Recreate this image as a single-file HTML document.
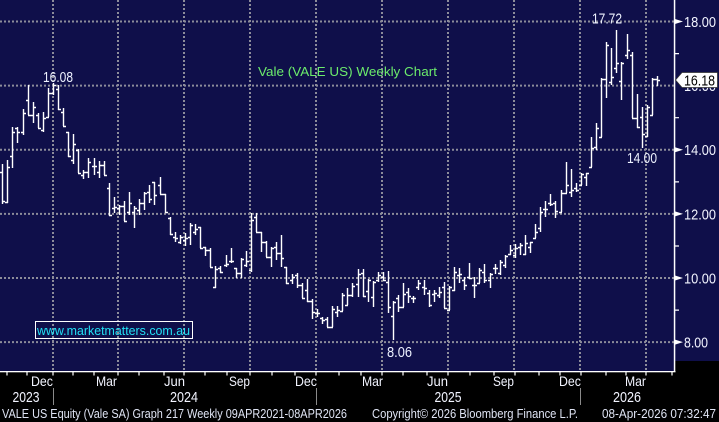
<!DOCTYPE html>
<html><head><meta charset="utf-8"><style>
html,body{margin:0;padding:0;background:#000;width:719px;height:422px;overflow:hidden}
svg{display:block}
text{font-family:"Liberation Sans",Arial,sans-serif}
</style></head><body>
<svg width="719" height="422" viewBox="0 0 719 422" xmlns="http://www.w3.org/2000/svg">
<rect x="0" y="0" width="719" height="422" fill="#000"/>
<rect x="0" y="0" width="675" height="371" fill="#0f0f4a"/>
<rect x="675" y="0" width="44" height="361" fill="#0f0f4a"/>
<g stroke="#8c8c9a" stroke-width="2" stroke-dasharray="2 2" fill="none">
<path d="M0 21.5H674M0 85.6H674M0 149.8H674M0 213.9H674M0 278H674M0 342.1H674"/>
<path d="M53 0V371M118 0V371M184 0V371M250 0V371M316 0V371M382 0V371M448 0V371M514 0V371M580 0V371M646 0V371"/>
</g>
<path fill="none" stroke="#fff" stroke-width="1.4" d="M2.5 164V204M0 172.5H3M2 201.5H5M7.5 160V203M5 202.5H8M7 167.5H10M12.5 127V168M10 156.5H13M12 132.5H15M17.5 127V143M15 128.5H18M17 132.5H20M23.5 109V135M21 132.5H24M23 113.5H26M28.5 85V115M26 100.5H29M28 115.5H31M33.5 102V123M31 115.5H34M33 107.5H36M38.5 113V128M36 115.5H39M38 128.5H41M43.5 112V132M41 130.5H44M43 118.5H46M48.5 88V117M46 117.5H49M48 93.5H51M53.5 83V95M51 93.5H54M53 85.5H56M58.5 85V110M56 89.5H59M58 109.5H61M63.5 108V126M61 112.5H64M63 126.5H66M68.5 132V157M66 132.5H69M68 156.5H71M73.5 134V164M71 160.5H74M73 144.5H76M78.5 149V173M76 150.5H79M78 173.5H81M83.5 170V179M81 175.5H84M83 172.5H86M88.5 158V178M86 172.5H89M88 162.5H91M94.5 158V175M92 166.5H95M94 166.5H97M99.5 161V178M97 172.5H100M99 165.5H102M104.5 161V175M102 165.5H105M104 175.5H107M109.5 183V216M107 188.5H110M109 215.5H112M114.5 197V213M112 208.5H115M114 207.5H117M119.5 205V215M117 208.5H120M119 206.5H122M124.5 201V221M122 206.5H125M124 221.5H127M129.5 192V215M127 212.5H130M129 203.5H132M134.5 206V228M132 212.5H135M134 208.5H137M139.5 199V215M137 210.5H140M139 203.5H142M144.5 192V210M142 203.5H145M144 193.5H147M149.5 185V203M147 192.5H150M149 199.5H152M154.5 182V205M152 182.5H155M154 195.5H157M160.5 177V194M158 185.5H161M160 194.5H163M165.5 194V213M163 194.5H166M165 212.5H168M170.5 217V235M168 218.5H171M170 234.5H173M175.5 232V242M173 237.5H176M175 238.5H178M180.5 235V244M178 242.5H181M180 237.5H183M185.5 233V246M183 240.5H186M185 238.5H188M190.5 223V245M188 237.5H191M190 225.5H193M195.5 224V235M193 232.5H196M195 229.5H198M200.5 227V248M198 227.5H201M200 248.5H203M205.5 247V256M203 247.5H206M205 250.5H208M210.5 248V267M208 250.5H211M210 267.5H213M215.5 266V288M213 287.5H216M215 269.5H218M220.5 266V273M218 268.5H221M220 272.5H223M226.5 255V267M224 265.5H227M226 264.5H229M231.5 248V263M229 261.5H232M231 261.5H234M236.5 268V278M234 268.5H237M236 273.5H239M241.5 258V278M239 273.5H242M241 259.5H244M246.5 251V267M244 265.5H247M246 261.5H249M251.5 213V272M249 270.5H252M251 220.5H254M256.5 213V232M254 217.5H257M256 232.5H259M261.5 232V252M259 232.5H262M261 242.5H264M266.5 241V257M264 242.5H267M266 257.5H269M271.5 247V267M269 257.5H272M271 248.5H274M276.5 242V260M274 247.5H277M276 253.5H279M281.5 235V267M279 253.5H282M281 258.5H284M286.5 267V284M284 267.5H287M286 283.5H289M292.5 274V284M290 280.5H293M292 277.5H295M297.5 273V288M295 275.5H298M297 285.5H300M302.5 283V298M300 285.5H303M302 298.5H305M307.5 279V302M305 290.5H308M307 301.5H310M312.5 299V319M310 301.5H313M312 312.5H315M317.5 309V317M315 313.5H318M317 313.5H320M322.5 317V324M320 318.5H323M322 320.5H325M327.5 317V327M325 319.5H328M327 327.5H330M332.5 306V327M330 327.5H333M332 309.5H335M337.5 306V317M335 312.5H338M337 310.5H340M342.5 293V311M340 311.5H343M342 295.5H345M347.5 288V305M345 305.5H348M347 295.5H350M352.5 283V297M350 295.5H353M352 286.5H355M358.5 269V297M356 284.5H359M358 274.5H361M363.5 269V297M361 273.5H364M363 296.5H366M368.5 279V302M366 291.5H369M368 280.5H371M373.5 281V307M371 297.5H374M373 282.5H376M378.5 272V282M376 280.5H379M378 275.5H381M383.5 272V280M381 277.5H384M383 280.5H386M388.5 271V313M386 282.5H389M388 307.5H391M393.5 301V340M391 316.5H394M393 302.5H396M398.5 295V312M396 298.5H399M398 307.5H401M403.5 283V307M401 307.5H404M403 294.5H406M408.5 288V303M406 292.5H409M408 296.5H411M413.5 296V303M411 298.5H414M413 298.5H416M418.5 280V290M416 287.5H419M418 283.5H421M424.5 280V295M422 287.5H425M424 288.5H427M429.5 290V307M427 293.5H430M429 305.5H432M434.5 290V302M432 294.5H435M434 293.5H437M439.5 287V298M437 295.5H440M439 292.5H442M444.5 282V308M442 287.5H445M444 308.5H447M449.5 286V310M447 310.5H450M449 287.5H452M454.5 267V291M452 290.5H455M454 272.5H457M459.5 268V283M457 275.5H460M459 274.5H462M464.5 277V290M462 280.5H465M464 285.5H467M469.5 263V278M467 277.5H470M469 278.5H472M474.5 277V298M472 285.5H475M474 285.5H477M479.5 268V283M477 283.5H480M479 270.5H482M484.5 264V283M482 272.5H485M484 280.5H487M490.5 273V288M488 280.5H491M490 274.5H493M495.5 264V274M493 268.5H496M495 268.5H498M500.5 260V275M498 273.5H501M500 262.5H503M505.5 255V268M503 265.5H506M505 256.5H508M510.5 245V255M508 254.5H511M510 250.5H513M515.5 244V258M513 255.5H516M515 248.5H518M520.5 243V255M518 247.5H521M520 245.5H523M525.5 235V255M523 254.5H526M525 243.5H528M530.5 242V253M528 247.5H531M530 242.5H533M535.5 224V238M533 238.5H536M535 232.5H538M540.5 207V232M538 228.5H541M540 212.5H543M545.5 201V217M543 209.5H546M545 209.5H548M550.5 194V206M548 203.5H551M550 204.5H553M555.5 201V218M553 203.5H556M555 211.5H558M561.5 190V212M559 212.5H562M561 193.5H564M566.5 162V193M564 193.5H567M566 185.5H569M571.5 169V197M569 192.5H572M571 190.5H574M576.5 183V192M574 188.5H577M576 190.5H579M581.5 173V185M579 185.5H582M581 174.5H584M586.5 173V186M584 177.5H587M586 173.5H589M591.5 137V167M589 167.5H592M591 148.5H594M596.5 123V150M594 147.5H597M596 128.5H599M601.5 78V137M599 137.5H602M601 79.5H604M606.5 42V98M604 79.5H607M606 45.5H609M611.5 48V85M609 82.5H612M611 77.5H614M616.5 30V73M614 68.5H617M616 63.5H619M621.5 62V100M619 81.5H622M621 63.5H624M627.5 34V59M625 55.5H628M627 50.5H630M632.5 52V118M630 55.5H633M632 118.5H635M637.5 94V128M635 118.5H638M637 127.5H640M642.5 107V148M640 117.5H643M642 134.5H645M647.5 105V137M645 136.5H648M647 107.5H650M652.5 78V115M650 115.5H653M652 79.5H655M657.5 76V86M655 79.5H658M657 80.5H660"/>
<!-- axes -->
<rect x="0" y="371" width="675.5" height="1.3" fill="#fff"/>
<rect x="673.8" y="0" width="1.5" height="372" fill="#fff"/>
<path stroke="#fff" stroke-width="1.2" fill="none" d="M7 372V375.5M27 372V375.5M53 372V375.5M73 372V375.5M94 372V375.5M118 372V375.5M139 372V375.5M164 372V375.5M184 372V375.5M205 372V375.5M227 372V375.5M250 372V375.5M272 372V375.5M295 372V375.5M316 372V375.5M339 372V375.5M361 372V375.5M382 372V375.5M403 372V375.5M427 372V375.5M448 372V375.5M470 372V375.5M494 372V375.5M515 372V375.5M539 372V375.5M560 372V375.5M581 372V375.5M606 372V375.5M626 372V375.5M646 372V375.5M672 372V375.5"/>
<path stroke="#fff" stroke-width="1.2" fill="none" d="M674 53.6H679M674 117.7H679M674 181.9H679M674 246H679M674 310.1H679"/>
<g fill="#fff">
<polygon points="675,19 683,21.5 675,24"/>
<polygon points="675,147.3 683,149.8 675,152.3"/>
<polygon points="675,211.4 683,213.9 675,216.4"/>
<polygon points="675,275.5 683,278 675,280.5"/>
<polygon points="675,339.6 683,342.1 675,344.6"/>
</g>
<g fill="#f2f4ff" font-size="14.5">
<text x="684" y="27" textLength="32" lengthAdjust="spacingAndGlyphs">18.00</text>
<text x="684" y="91" textLength="32" lengthAdjust="spacingAndGlyphs">16.00</text>
<text x="684" y="155.2" textLength="32" lengthAdjust="spacingAndGlyphs">14.00</text>
<text x="684" y="219.3" textLength="32" lengthAdjust="spacingAndGlyphs">12.00</text>
<text x="684" y="283.4" textLength="32" lengthAdjust="spacingAndGlyphs">10.00</text>
<text x="684" y="347.5" textLength="24" lengthAdjust="spacingAndGlyphs">8.00</text>
</g>
<!-- current price -->
<polygon points="675.5,80 682,72.5 717.5,72.5 717.5,87.5 682,87.5" fill="#fff" stroke="#333" stroke-width="0.8"/>
<text x="684" y="85.5" font-size="14.5" fill="#000" textLength="31" lengthAdjust="spacingAndGlyphs">16.18</text>
<!-- annotations -->
<g fill="#eef2ff" font-size="14.5">
<text x="43" y="82" textLength="30" lengthAdjust="spacingAndGlyphs">16.08</text>
<text x="592" y="23.5" textLength="30" lengthAdjust="spacingAndGlyphs">17.72</text>
<text x="627" y="163" textLength="30" lengthAdjust="spacingAndGlyphs">14.00</text>
<text x="387" y="357" textLength="25" lengthAdjust="spacingAndGlyphs">8.06</text>
</g>
<text x="258" y="76" font-size="13" fill="#6cec6c" textLength="179" lengthAdjust="spacingAndGlyphs">Vale (VALE US) Weekly Chart</text>
<rect x="35.5" y="321.5" width="157" height="17" fill="none" stroke="#fff" stroke-width="1"/>
<text x="37" y="335" font-size="13" fill="#22e0f4" textLength="153" lengthAdjust="spacingAndGlyphs">www.marketmatters.com.au</text>
<!-- month labels -->
<g fill="#f2f4ff" font-size="14" text-anchor="end">
<text x="53" y="386" textLength="22" lengthAdjust="spacingAndGlyphs">Dec</text>
<text x="117" y="386" textLength="21" lengthAdjust="spacingAndGlyphs">Mar</text>
<text x="185" y="386" textLength="21" lengthAdjust="spacingAndGlyphs">Jun</text>
<text x="250" y="386" textLength="21" lengthAdjust="spacingAndGlyphs">Sep</text>
<text x="317" y="386" textLength="22" lengthAdjust="spacingAndGlyphs">Dec</text>
<text x="383" y="386" textLength="21" lengthAdjust="spacingAndGlyphs">Mar</text>
<text x="448" y="386" textLength="21" lengthAdjust="spacingAndGlyphs">Jun</text>
<text x="514" y="386" textLength="21" lengthAdjust="spacingAndGlyphs">Sep</text>
<text x="581" y="386" textLength="22" lengthAdjust="spacingAndGlyphs">Dec</text>
<text x="646" y="386" textLength="21" lengthAdjust="spacingAndGlyphs">Mar</text>
</g>
<g fill="#f2f4ff" font-size="15" text-anchor="middle">
<text x="26" y="402" textLength="27" lengthAdjust="spacingAndGlyphs">2023</text>
<text x="184" y="402" textLength="28" lengthAdjust="spacingAndGlyphs">2024</text>
<text x="448" y="402" textLength="27" lengthAdjust="spacingAndGlyphs">2025</text>
<text x="627" y="402" textLength="28" lengthAdjust="spacingAndGlyphs">2026</text>
</g>
<path stroke="#8a8a8a" stroke-width="1" d="M53.5 388V405M316.5 388V405M580.5 388V405"/>
<!-- footer -->
<g fill="#dfe4f4" font-size="13">
<text x="2" y="418" textLength="345" lengthAdjust="spacingAndGlyphs">VALE US Equity (Vale SA) Graph 217 Weekly 09APR2021-08APR2026</text>
<text x="372" y="418" textLength="206" lengthAdjust="spacingAndGlyphs">Copyright© 2026 Bloomberg Finance L.P.</text>
<text x="602" y="418" textLength="114" lengthAdjust="spacingAndGlyphs">08-Apr-2026 07:32:47</text>
</g>
</svg>
</body></html>
